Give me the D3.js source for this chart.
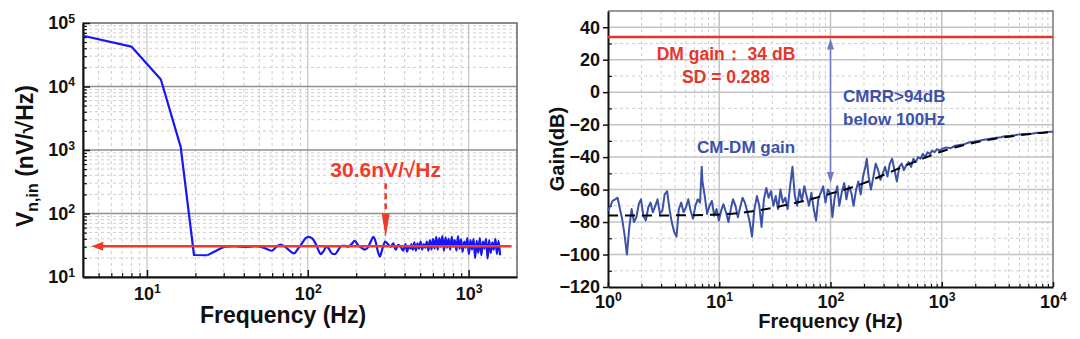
<!DOCTYPE html>
<html>
<head>
<meta charset="utf-8">
<script src="https://cdn.jsdelivr.net/npm/d3@7"></script>
<style>
  body { margin: 0; background: #fff; }
  text { font-family: Arial, "Liberation Sans", sans-serif; font-weight: bold; }
</style>
</head>
<body>
<div id="chart"></div>
<script>
// ---------- data ----------
// left panel: input referred noise density [Hz, nV/sqrt(Hz)]
var vnData = [
  [4, 63000], [8, 42500], [12.2, 12900], [16.2, 1120], [19.6, 22.2], [23.7, 22], [27, 26],
  [30.8, 30], [35, 30.5], [41, 29.5], [47, 30.5], [53, 29], [59.6, 25.9], [64, 30], [67.6, 32.5],
  [72, 30], [77, 26], [82, 23.5], [87, 28], [92, 34], [97, 41], [101, 43], [106, 41], [111, 35],
  [116, 27], [120, 23], [126, 26], [130, 30], [135, 28], [141, 23.5], [148, 23], [155, 27],
  [162, 31], [170, 31], [178, 30], [187, 33], [196, 37], [205, 32], [215, 29], [226, 27],
  [236, 29], [246, 36], [256, 43], [265, 35], [273, 25], [281, 21], [290, 27], [303, 36],
  [315, 33], [328, 30], [340, 34], [352, 27], [365, 32], [378, 30], [392, 26], [405, 33],
  [414, 25], [425, 31], [436, 28],
  [440, 33], [450, 27], [460, 35], [470, 26], [481, 34], [492, 28], [503, 36], [514, 27],
  [526, 33], [538, 29], [550, 36], [562, 26], [575, 38], [588, 27], [601, 40], [615, 28],
  [629, 43], [643, 27], [657, 41], [672, 30], [687, 44], [703, 26], [719, 42], [735, 29],
  [751, 40], [768, 27], [786, 43], [803, 30], [821, 38], [840, 26], [859, 44], [878, 28],
  [898, 39], [918, 25], [939, 36], [960, 29], [982, 41], [1004, 23], [1027, 38], [1050, 27],
  [1074, 40], [1098, 20], [1123, 37], [1148, 24], [1174, 41], [1200, 22], [1228, 36], [1255, 28],
  [1284, 40], [1313, 19.5], [1342, 38], [1373, 24], [1404, 35], [1435, 27], [1468, 40], [1501, 23],
  [1535, 37], [1570, 22]
];
var vnKnee = 6;          // first points are joined by straight segments
var vnLevel = 30.6;      // nV/sqrt(Hz), red reference line
var vnLineRange = [4.5, 1850];
var vnMarkFreq = 305;    // Hz, dashed arrow
var vnLabel = "30.6nV/\u221AHz";

// right panel: CM-DM gain [Hz, dB]
var cmdmData = [
  [1.00, -73], [1.05, -70], [1.10, -67], [1.16, -66], [1.22, -65], [1.28, -72], [1.34, -78],
  [1.41, -88], [1.48, -100], [1.55, -84], [1.63, -72], [1.71, -80], [1.80, -77], [1.89, -69],
  [1.98, -66], [2.08, -76], [2.19, -79], [2.30, -71], [2.41, -68], [2.53, -74], [2.66, -70],
  [2.79, -66], [2.93, -75], [3.08, -73], [3.23, -63], [3.40, -61], [3.57, -72], [3.74, -80],
  [3.93, -86], [4.13, -89], [4.33, -72], [4.55, -68], [4.78, -74], [5.02, -71], [5.27, -66],
  [5.53, -73], [5.81, -78], [6.10, -70], [6.40, -66], [6.72, -68], [6.96, -46], [7.06, -55],
  [7.41, -64], [7.78, -75], [8.17, -70], [8.58, -67], [9.01, -76], [9.46, -72], [9.93, -79],
  [10.4, -73], [10.9, -69], [11.5, -74], [12.1, -80], [12.7, -72], [13.3, -66], [14.0, -70],
  [14.7, -77], [15.4, -71], [16.2, -65], [17.0, -68], [17.9, -74], [18.8, -80], [19.7, -89],
  [20.7, -72], [21.8, -64], [22.9, -70], [24.0, -83], [25.2, -66], [26.5, -59], [27.8, -65],
  [29.2, -61], [30.7, -70], [32.2, -64], [33.8, -72], [35.5, -60], [37.3, -68], [39.2, -65],
  [41.2, -72], [43.3, -58], [45.5, -46], [47.8, -64], [50.2, -70], [52.7, -60], [55.3, -67],
  [58.1, -58], [61.0, -64], [64.1, -70], [67.3, -62], [70.7, -72], [74.2, -79], [77.9, -65],
  [81.8, -62], [85.9, -58], [90.2, -68], [94.7, -60], [99.5, -62],
  [104, -77], [109, -65], [115, -58], [120, -70], [126, -62], [133, -56], [139, -66], [146, -58],
  [154, -62], [161, -70], [170, -60], [178, -55], [187, -63], [196, -52], [206, -46], [212, -41],
  [220, -52], [231, -60], [243, -52], [255, -44], [268, -48], [281, -54], [295, -50], [310, -46],
  [325, -52], [341, -44], [358, -41], [376, -48], [395, -55], [415, -46], [436, -44], [457, -48],
  [480, -45], [504, -43], [530, -46], [556, -41], [584, -43], [613, -40], [644, -41], [676, -38],
  [710, -40], [745, -37], [783, -38], [822, -36], [863, -37], [906, -35], [951, -36],
  [1000, -35], [1100, -34], [1200, -34.5], [1320, -33], [1450, -32.5], [1600, -32], [1750, -31],
  [1930, -30.5], [2120, -30], [2330, -29.5], [2560, -29], [2820, -28.5], [3100, -28], [3400, -27.8],
  [3750, -27], [4120, -26.8], [4530, -26.5], [4980, -26], [5480, -25.8], [6020, -26], [6620, -25.5],
  [7280, -25], [8000, -25.2], [8800, -24.6], [9700, -24.3], [10000, -24.5]
];
// fitted trend (black dashed)
var fitData = [
  [1, -76], [2, -76], [5, -75.8], [10, -75.3], [15, -74.5], [20, -73.3], [30, -71.3], [50, -68],
  [70, -65.5], [100, -62.5], [150, -59], [200, -56], [300, -51], [500, -44.5], [700, -40.5],
  [1000, -36.5], [1500, -33], [2000, -31], [3000, -28.7], [5000, -26.5], [7000, -25.3], [10000, -24.5]
];
var dmGain = 34;                 // dB
var cmrrFreq = 100;              // Hz
var cmrrSpan = [33, -56];        // dB, ends of the double arrow
var dmLabels = ["DM gain\uFF1A 34 dB", "SD = 0.288"];
var cmrrLabels = ["CMRR>94dB", "below 100Hz"];
var cmdmLabel = "CM-DM gain";

// ticks
var leftYTicks = [10, 100, 1e3, 1e4, 1e5];
var leftXTicks = [10, 100, 1000];
var rightYTicks = [-120, -100, -80, -60, -40, -20, 0, 20, 40];
var rightYMinor = [-110, -90, -70, -50, -30, -10, 10, 30];
var rightXTicks = [1, 10, 100, 1000, 10000];

// ---------- helpers ----------
function minors(lo, hi) {
  var out = [];
  for (var e = lo; e < hi; e++)
    for (var m = 2; m < 10; m++) out.push(m * Math.pow(10, e));
  return out;
}
function powerLabels(g) {
  g.selectAll(".tick text").each(function (d) {
    var t = d3.select(this);
    t.text(null);
    t.append("tspan").text("10");
    t.append("tspan").attr("dy", "-0.55em").attr("font-size", "0.68em")
      .text(Math.round(Math.log10(d)));
  });
}
function styleAxis(g, size) {
  g.attr("font-size", size).attr("font-family", null);
  g.selectAll(".tick text").attr("fill", "#111");
  g.selectAll(".tick line").attr("stroke", "#111").attr("stroke-width", 1.5);
  g.select(".domain").attr("stroke", "#111").attr("stroke-width", 2);
}

var svg = d3.select("#chart")
  .append("svg")
  .attr("width", 1080)
  .attr("height", 339);

// =============== left panel ===============
var mL = { top: 23, left: 83 }, wL = 434, hL = 254;
var gL = svg.append("g").attr("transform", "translate(" + mL.left + "," + mL.top + ")");

var xL = d3.scaleLog().domain([4, 2000]).range([0, wL]);
var yL = d3.scaleLog().domain([10, 1e5]).range([hL, 0]);
var xMinL = minors(0, 4).filter(function (d) { return d > 4 && d < 2000; });

// grid
gL.append("g").selectAll("line")
  .data(xMinL)
  .enter().append("line")
  .attr("x1", function (d) { return xL(d); }).attr("x2", function (d) { return xL(d); })
  .attr("y1", 0).attr("y2", hL)
  .attr("stroke", "#cfcfcf").attr("stroke-dasharray", "3,3");
gL.append("g").selectAll("line")
  .data(minors(1, 5))
  .enter().append("line")
  .attr("y1", function (d) { return yL(d); }).attr("y2", function (d) { return yL(d); })
  .attr("x1", 0).attr("x2", wL)
  .attr("stroke", "#cfcfcf").attr("stroke-dasharray", "3,3");
gL.append("g").selectAll("line")
  .data(leftXTicks)
  .enter().append("line")
  .attr("x1", function (d) { return xL(d); }).attr("x2", function (d) { return xL(d); })
  .attr("y1", 0).attr("y2", hL)
  .attr("stroke", "#c8c8c8").attr("stroke-width", 1.3);
gL.append("g").selectAll("line")
  .data([100, 1e3, 1e4])
  .enter().append("line")
  .attr("y1", function (d) { return yL(d); }).attr("y2", function (d) { return yL(d); })
  .attr("x1", 0).attr("x2", wL)
  .attr("stroke", "#8f8f8f").attr("stroke-width", 1.5);

gL.append("rect").attr("width", wL).attr("height", hL)
  .attr("fill", "none").attr("stroke", "#666").attr("stroke-width", 1.5);

// axes
var axYL = gL.append("g")
  .call(d3.axisLeft(yL).tickValues(leftYTicks).tickSize(-7).tickSizeOuter(0).tickPadding(8));
styleAxis(axYL, 18);
powerLabels(axYL);
var axYLm = gL.append("g")
  .call(d3.axisLeft(yL).tickValues(minors(1, 5)).tickSize(-4).tickFormat(""));
axYLm.select(".domain").remove();
axYLm.selectAll("line").attr("stroke", "#111").attr("stroke-width", 1.2);

var axXL = gL.append("g").attr("transform", "translate(0," + hL + ")")
  .call(d3.axisBottom(xL).tickValues(leftXTicks).tickSize(-7).tickSizeOuter(0).tickPadding(10));
styleAxis(axXL, 18);
powerLabels(axXL);
var axXLm = gL.append("g").attr("transform", "translate(0," + hL + ")")
  .call(d3.axisBottom(xL).tickValues(xMinL).tickSize(-4).tickFormat(""));
axXLm.select(".domain").remove();
axXLm.selectAll("line").attr("stroke", "#111").attr("stroke-width", 1.2);

// data line: straight roll-off, smooth floor
var lineL = d3.line()
  .x(function (d) { return xL(d[0]); })
  .y(function (d) { return yL(d[1]); });
gL.append("path")
  .datum(vnData.slice(0, vnKnee))
  .attr("fill", "none").attr("stroke", "#1717f5").attr("stroke-width", 2.2)
  .attr("stroke-linejoin", "round")
  .attr("d", lineL);
gL.append("path")
  .datum(vnData.slice(vnKnee - 1))
  .attr("fill", "none").attr("stroke", "#1717f5").attr("stroke-width", 2.2)
  .attr("stroke-linejoin", "round")
  .attr("d", lineL.curve(d3.curveMonotoneX));

// red reference line with left arrow
var red = "#ef3b2c";
var yRef = yL(vnLevel), xTip = xL(vnLineRange[0]);
gL.append("line")
  .attr("x1", xTip + 6).attr("x2", xL(vnLineRange[1]))
  .attr("y1", yRef).attr("y2", yRef)
  .attr("stroke", red).attr("stroke-width", 2.5);
gL.append("path")
  .attr("d", "M" + xTip + "," + yRef + "L" + (xTip + 12) + "," + (yRef - 4.5) +
    "L" + (xTip + 12) + "," + (yRef + 4.5) + "Z")
  .attr("fill", red);

// dashed arrow + label
var xm = xL(vnMarkFreq);
gL.append("line")
  .attr("x1", xm).attr("x2", xm)
  .attr("y1", yL(300)).attr("y2", yL(100))
  .attr("stroke", red).attr("stroke-width", 2.5).attr("stroke-dasharray", "6,4");
gL.append("path")
  .attr("d", "M" + (xm - 4) + "," + yL(100) + "L" + (xm + 4) + "," + yL(100) +
    "L" + xm + "," + yL(42) + "Z")
  .attr("fill", red);
gL.append("text")
  .attr("x", xm).attr("y", yL(300) - 6)
  .attr("text-anchor", "middle")
  .attr("font-size", 21)
  .attr("fill", red)
  .text(vnLabel);

// titles
gL.append("text")
  .attr("x", wL / 2 - 17).attr("y", 300)
  .attr("text-anchor", "middle").attr("font-size", 23).attr("fill", "#111")
  .text("Frequency (Hz)");
var tY = svg.append("text")
  .attr("transform", "translate(33,156) rotate(-90)")
  .attr("text-anchor", "middle").attr("font-size", 23).attr("fill", "#111");
tY.append("tspan").text("V");
tY.append("tspan").attr("font-size", 16).attr("dy", 5).text("n,in");
tY.append("tspan").attr("dy", -5).text(" (nV/\u221AHz)");

// =============== right panel ===============
var mR = { top: 11, left: 608 }, wR = 445, hR = 276;
var gR = svg.append("g").attr("transform", "translate(" + mR.left + "," + mR.top + ")");

var xR = d3.scaleLog().domain([1, 1e4]).range([0, wR]);
var yR = d3.scaleLinear().domain([-120, 50]).range([hR, 0]);

// grid
gR.append("g").selectAll("line")
  .data(minors(0, 4))
  .enter().append("line")
  .attr("x1", function (d) { return xR(d); }).attr("x2", function (d) { return xR(d); })
  .attr("y1", 0).attr("y2", hR)
  .attr("stroke", "#cfcfcf").attr("stroke-dasharray", "3,3");
gR.append("g").selectAll("line")
  .data(rightYMinor)
  .enter().append("line")
  .attr("y1", function (d) { return yR(d); }).attr("y2", function (d) { return yR(d); })
  .attr("x1", 0).attr("x2", wR)
  .attr("stroke", "#cfcfcf").attr("stroke-dasharray", "3,3");
gR.append("g").selectAll("line")
  .data([10, 100, 1000])
  .enter().append("line")
  .attr("x1", function (d) { return xR(d); }).attr("x2", function (d) { return xR(d); })
  .attr("y1", 0).attr("y2", hR)
  .attr("stroke", "#c4c4c4").attr("stroke-width", 1.5);
gR.append("g").selectAll("line")
  .data(rightYTicks.slice(1))
  .enter().append("line")
  .attr("y1", function (d) { return yR(d); }).attr("y2", function (d) { return yR(d); })
  .attr("x1", 0).attr("x2", wR)
  .attr("stroke", "#c4c4c4").attr("stroke-width", 1.5);

gR.append("path")
  .attr("d", "M0,0H" + wR + "V" + hR)
  .attr("fill", "none").attr("stroke", "#777").attr("stroke-width", 1.5);

// axes
var axYR = gR.append("g")
  .call(d3.axisLeft(yR).tickValues(rightYTicks).tickSize(5).tickSizeOuter(0).tickPadding(3));
styleAxis(axYR, 18);
var axYRm = gR.append("g")
  .call(d3.axisLeft(yR).tickValues(rightYMinor).tickSize(-4).tickFormat(""));
axYRm.select(".domain").remove();
axYRm.selectAll("line").attr("stroke", "#111").attr("stroke-width", 1.2);

var axXR = gR.append("g").attr("transform", "translate(0," + hR + ")")
  .call(d3.axisBottom(xR).tickValues(rightXTicks).tickSize(-5).tickSizeOuter(0).tickPadding(8));
styleAxis(axXR, 18);
powerLabels(axXR);
var axXRm = gR.append("g").attr("transform", "translate(0," + hR + ")")
  .call(d3.axisBottom(xR).tickValues(minors(0, 4)).tickSize(-3).tickFormat(""));
axXRm.select(".domain").remove();
axXRm.selectAll("line").attr("stroke", "#111").attr("stroke-width", 1.2);

// DM gain line
gR.append("line")
  .attr("x1", 0).attr("x2", wR)
  .attr("y1", yR(dmGain)).attr("y2", yR(dmGain))
  .attr("stroke", "#e8352b").attr("stroke-width", 2.5);

// CM-DM gain + fit
gR.append("path")
  .datum(cmdmData)
  .attr("fill", "none")
  .attr("stroke", "#3c52a8")
  .attr("stroke-width", 2)
  .attr("stroke-linejoin", "round")
  .attr("d", d3.line()
    .x(function (d) { return xR(d[0]); })
    .y(function (d) { return yR(d[1]); }));
gR.append("path")
  .datum(fitData)
  .attr("fill", "none")
  .attr("stroke", "#000")
  .attr("stroke-width", 2)
  .attr("stroke-dasharray", "10,7")
  .attr("d", d3.line()
    .x(function (d) { return xR(d[0]); })
    .y(function (d) { return yR(d[1]); })
    .curve(d3.curveMonotoneX));

// CMRR double arrow
var arrowCol = "#6d7cc2";
var xa = xR(cmrrFreq), ya1 = yR(cmrrSpan[0]), ya2 = yR(cmrrSpan[1]);
gR.append("line")
  .attr("x1", xa).attr("x2", xa).attr("y1", ya1 + 8).attr("y2", ya2 - 8)
  .attr("stroke", arrowCol).attr("stroke-width", 1.5);
gR.append("path")
  .attr("d", "M" + xa + "," + ya1 + "L" + (xa - 3.5) + "," + (ya1 + 11) + "L" + (xa + 3.5) + "," + (ya1 + 11) + "Z" +
    "M" + xa + "," + ya2 + "L" + (xa - 3.5) + "," + (ya2 - 11) + "L" + (xa + 3.5) + "," + (ya2 - 11) + "Z")
  .attr("fill", arrowCol);

// labels
gR.selectAll(".dm")
  .data(dmLabels)
  .enter().append("text")
  .attr("x", 118).attr("y", function (d, i) { return 49 + i * 23; })
  .attr("text-anchor", "middle").attr("font-size", 17.5).attr("fill", "#e8352b")
  .text(function (d) { return d; });
gR.selectAll(".cmrr")
  .data(cmrrLabels)
  .enter().append("text")
  .attr("x", 235).attr("y", function (d, i) { return 91 + i * 23; })
  .attr("font-size", 17).attr("fill", "#3c52a8")
  .text(function (d) { return d; });
gR.append("text")
  .attr("x", 89).attr("y", 142)
  .attr("font-size", 17).attr("fill", "#3c52a8")
  .text(cmdmLabel);

// titles
gR.append("text")
  .attr("x", wR / 2).attr("y", 317)
  .attr("text-anchor", "middle").attr("font-size", 20).attr("fill", "#111")
  .text("Frequency (Hz)");
svg.append("text")
  .attr("transform", "translate(564,149) rotate(-90)")
  .attr("text-anchor", "middle").attr("font-size", 20).attr("fill", "#111")
  .text("Gain(dB)");
</script>
</body>
</html>
